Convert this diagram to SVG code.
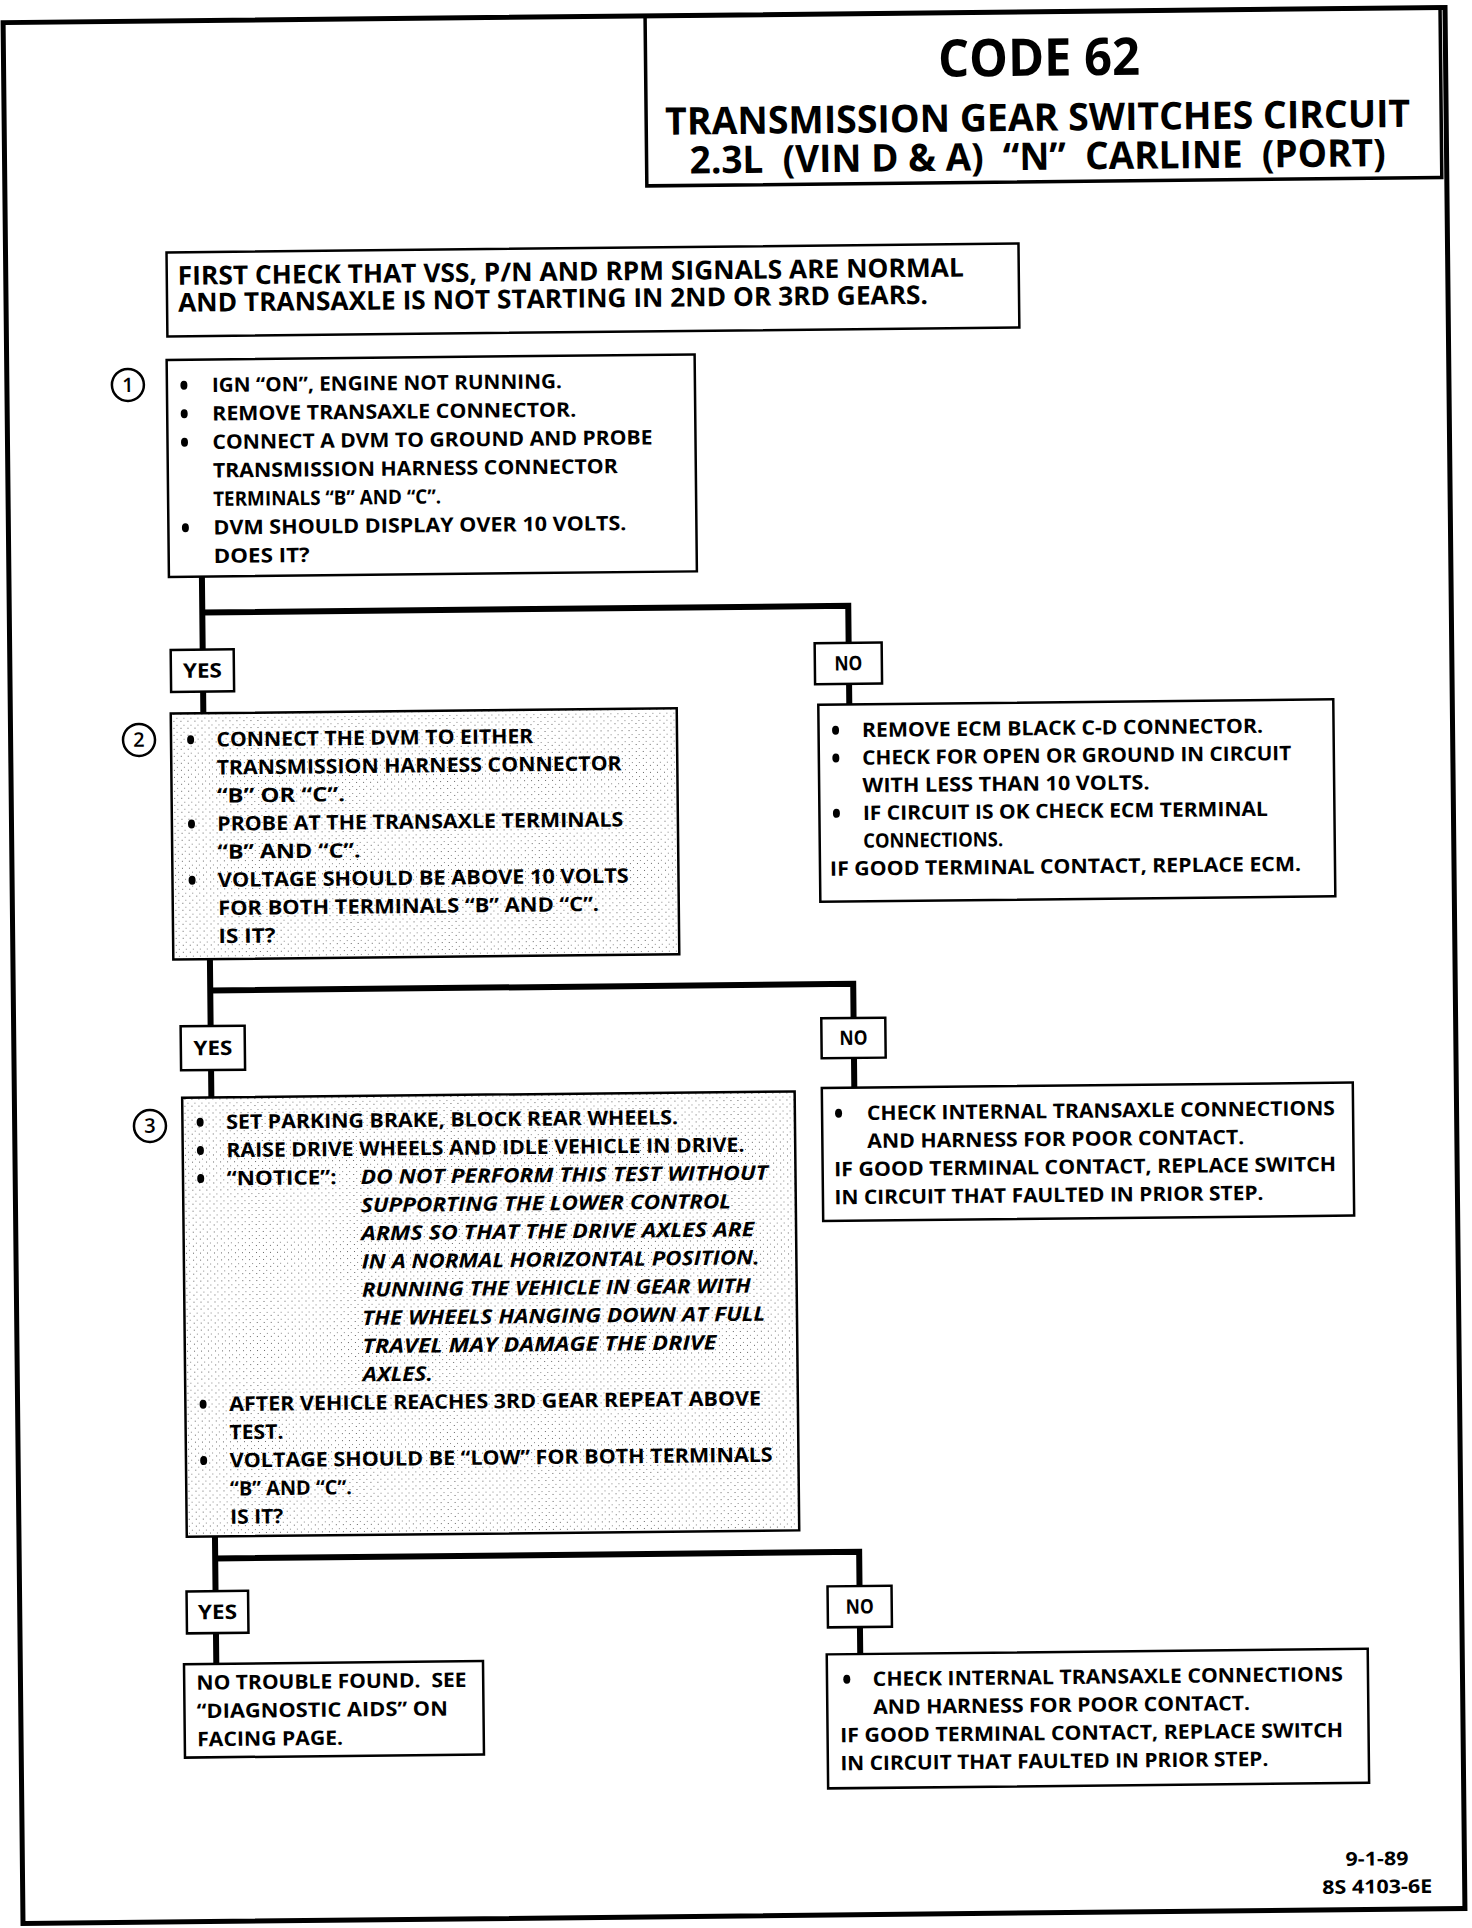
<svg xmlns="http://www.w3.org/2000/svg" width="1472" height="1928" viewBox="0 0 1472 1928">
<style>
.t{font-family:"Open Sans","Liberation Sans",sans-serif;font-weight:700;font-size:20px;fill:#000}
.i{font-style:italic}
.h1{font-size:52px}
.h2{font-size:38px}
.h3{font-size:26px}
.ft{font-size:19px}
.n{font-family:"Open Sans","Liberation Sans",sans-serif;font-weight:600;font-size:20px;fill:#000;text-anchor:middle}
.box{fill:#fff;stroke:#000;stroke-width:2.5}
.sh{fill:url(#stip);stroke:#000;stroke-width:2.5}
.lbl{fill:#fff;stroke:#000;stroke-width:2.5}
.conn{fill:none;stroke:#000;stroke-width:6;stroke-linejoin:miter}
.circ{fill:#fff;stroke:#000;stroke-width:2.5}
.pre{white-space:pre}
</style>
<defs>
<pattern id="stip" width="7" height="7" patternUnits="userSpaceOnUse">
<rect width="7" height="7" fill="#fff"/>
<rect x="1" y="1" width="1" height="1" fill="#666"/>
<rect x="4" y="5" width="1" height="1" fill="#888"/>
</pattern>
</defs>
<rect width="1472" height="1928" fill="#fff"/>
<g transform="rotate(-0.6 736 964)">
<rect id="frame" x="13" y="15" width="1442" height="1901" fill="none" stroke="#000" stroke-width="5"/>

<g id="title">
<rect x="655" y="15" width="795" height="170" fill="none" stroke="#000" stroke-width="3.5"/>
<text class="t h1" x="947.5" y="79" textLength="202" lengthAdjust="spacingAndGlyphs">CODE 62</text>
<text class="t h2" x="674" y="134" textLength="745" lengthAdjust="spacingAndGlyphs">TRANSMISSION GEAR SWITCHES CIRCUIT</text>
<text class="t h2 pre" x="698" y="173" textLength="696" lengthAdjust="spacingAndGlyphs">2.3L  (VIN D &amp; A)  “N”  CARLINE  (PORT)</text>
</g>

<g id="connectors">
<path class="conn" d="M206 571 V644 M206 686 V708 M206 607 H852 V644 M852 685 V706"/>
<path class="conn" d="M210 954 V1021 M210 1064 V1092 M210 985 H853 V1019 M853 1059 V1089"/>
<path class="conn" d="M209 1531 V1586 M209 1628 V1658 M209 1553 H853 V1587 M853 1628 V1655"/>
</g>

<g id="first-check">
<rect class="box" x="174" y="246.5" width="852" height="84"/>
<text class="t h3" x="185" y="279" textLength="786" lengthAdjust="spacingAndGlyphs">FIRST CHECK THAT VSS, P/N AND RPM SIGNALS ARE NORMAL</text>
<text class="t h3" x="185" y="306" textLength="750" lengthAdjust="spacingAndGlyphs">AND TRANSAXLE IS NOT STARTING IN 2ND OR 3RD GEARS.</text>
</g>

<g id="step1">
<circle class="circ" cx="134" cy="378.6" r="16"/>
<text class="n" x="134" y="385.5">1</text>
<rect class="box" x="173" y="354" width="528" height="217"/>
<ellipse cx="190" cy="379.5" rx="3.5" ry="4.5"/><ellipse cx="190" cy="408" rx="3.5" ry="4.5"/><ellipse cx="190" cy="436.5" rx="3.5" ry="4.5"/><ellipse cx="190" cy="522" rx="3.5" ry="4.5"/>
<text class="t" x="218" y="386.5" textLength="350" lengthAdjust="spacingAndGlyphs">IGN “ON”, ENGINE NOT RUNNING.</text>
<text class="t" x="218" y="415" textLength="364" lengthAdjust="spacingAndGlyphs">REMOVE TRANSAXLE CONNECTOR.</text>
<text class="t" x="218" y="443.5" textLength="440" lengthAdjust="spacingAndGlyphs">CONNECT A DVM TO GROUND AND PROBE</text>
<text class="t" x="218" y="472" textLength="405" lengthAdjust="spacingAndGlyphs">TRANSMISSION HARNESS CONNECTOR</text>
<text class="t" x="218" y="500.5" textLength="228" lengthAdjust="spacingAndGlyphs">TERMINALS “B” AND “C”.</text>
<text class="t" x="218" y="529" textLength="413" lengthAdjust="spacingAndGlyphs">DVM SHOULD DISPLAY OVER 10 VOLTS.</text>
<text class="t" x="218" y="557.5" textLength="96" lengthAdjust="spacingAndGlyphs">DOES IT?</text>
</g>

<g id="yes1">
<rect class="lbl" x="174" y="644" width="63" height="42"/>
<text class="t" x="205.5" y="672" text-anchor="middle" textLength="39" lengthAdjust="spacingAndGlyphs">YES</text>
</g>
<g id="no1">
<rect class="lbl" x="818" y="644" width="67" height="41"/>
<text class="t" x="851.5" y="671.5" text-anchor="middle" textLength="28" lengthAdjust="spacingAndGlyphs">NO</text>
</g>

<g id="step2">
<circle class="circ" cx="141.4" cy="733.7" r="16"/>
<text class="n" x="141.4" y="740.5">2</text>
<rect class="sh" x="173.4" y="707.7" width="506" height="246"/>
<ellipse cx="193" cy="734" rx="3.5" ry="4.5"/><ellipse cx="193" cy="818.3" rx="3.5" ry="4.5"/><ellipse cx="193" cy="874.5" rx="3.5" ry="4.5"/>
<text class="t" x="218.7" y="741" textLength="317" lengthAdjust="spacingAndGlyphs">CONNECT THE DVM TO EITHER</text>
<text class="t" x="218.7" y="769.1" textLength="405" lengthAdjust="spacingAndGlyphs">TRANSMISSION HARNESS CONNECTOR</text>
<text class="t" x="218.7" y="797.2" textLength="128" lengthAdjust="spacingAndGlyphs">“B” OR “C”.</text>
<text class="t" x="218.7" y="825.3" textLength="406" lengthAdjust="spacingAndGlyphs">PROBE AT THE TRANSAXLE TERMINALS</text>
<text class="t" x="218.7" y="853.4" textLength="143" lengthAdjust="spacingAndGlyphs">“B” AND “C”.</text>
<text class="t" x="218.7" y="881.5" textLength="411" lengthAdjust="spacingAndGlyphs">VOLTAGE SHOULD BE ABOVE 10 VOLTS</text>
<text class="t" x="218.7" y="909.6" textLength="381" lengthAdjust="spacingAndGlyphs">FOR BOTH TERMINALS “B” AND “C”.</text>
<text class="t" x="218.7" y="937.7" textLength="57" lengthAdjust="spacingAndGlyphs">IS IT?</text>
</g>

<g id="ecm-box">
<rect class="box" x="821" y="705.6" width="515" height="197"/>
<ellipse cx="838" cy="731.3" rx="3.5" ry="4.5"/><ellipse cx="838" cy="759" rx="3.5" ry="4.5"/><ellipse cx="838" cy="814.4" rx="3.5" ry="4.5"/>
<text class="t" x="864.4" y="738.3" textLength="401" lengthAdjust="spacingAndGlyphs">REMOVE ECM BLACK C-D CONNECTOR.</text>
<text class="t" x="864.4" y="766" textLength="429" lengthAdjust="spacingAndGlyphs">CHECK FOR OPEN OR GROUND IN CIRCUIT</text>
<text class="t" x="864.4" y="793.7" textLength="287" lengthAdjust="spacingAndGlyphs">WITH LESS THAN 10 VOLTS.</text>
<text class="t" x="864.4" y="821.4" textLength="405" lengthAdjust="spacingAndGlyphs">IF CIRCUIT IS OK CHECK ECM TERMINAL</text>
<text class="t" x="864.4" y="849.1" textLength="140" lengthAdjust="spacingAndGlyphs">CONNECTIONS.</text>
<text class="t" x="831" y="876.8" textLength="471" lengthAdjust="spacingAndGlyphs">IF GOOD TERMINAL CONTACT, REPLACE ECM.</text>
</g>

<g id="yes2">
<rect class="lbl" x="180" y="1020.5" width="64" height="44"/>
<text class="t" x="212" y="1049.5" text-anchor="middle" textLength="39" lengthAdjust="spacingAndGlyphs">YES</text>
</g>
<g id="no2">
<rect class="lbl" x="820.7" y="1019.2" width="64" height="40"/>
<text class="t" x="852.7" y="1046" text-anchor="middle" textLength="28" lengthAdjust="spacingAndGlyphs">NO</text>
</g>

<g id="check-box-1">
<rect class="box" x="820.5" y="1089" width="531" height="133"/>
<ellipse cx="837" cy="1114.4" rx="3.5" ry="4.5"/>
<text class="t" x="865.4" y="1121.4" textLength="468" lengthAdjust="spacingAndGlyphs">CHECK INTERNAL TRANSAXLE CONNECTIONS</text>
<text class="t" x="865.4" y="1149.4" textLength="377" lengthAdjust="spacingAndGlyphs">AND HARNESS FOR POOR CONTACT.</text>
<text class="t" x="832" y="1177.4" textLength="502" lengthAdjust="spacingAndGlyphs">IF GOOD TERMINAL CONTACT, REPLACE SWITCH</text>
<text class="t" x="832" y="1205.4" textLength="429" lengthAdjust="spacingAndGlyphs">IN CIRCUIT THAT FAULTED IN PRIOR STEP.</text>
</g>

<g id="step3">
<circle class="circ" cx="148.3" cy="1119.8" r="16"/>
<text class="n" x="148.3" y="1126.5">3</text>
<rect class="sh" x="180.8" y="1092" width="612.5" height="439"/>
<ellipse cx="198.5" cy="1116.6" rx="3.5" ry="4.5"/><ellipse cx="198.5" cy="1144.8" rx="3.5" ry="4.5"/><ellipse cx="198.5" cy="1173" rx="3.5" ry="4.5"/><ellipse cx="198.5" cy="1398.6" rx="3.5" ry="4.5"/><ellipse cx="198.5" cy="1455" rx="3.5" ry="4.5"/>
<text class="t" x="224.5" y="1123.6" textLength="452" lengthAdjust="spacingAndGlyphs">SET PARKING BRAKE, BLOCK REAR WHEELS.</text>
<text class="t" x="224.5" y="1151.8" textLength="518" lengthAdjust="spacingAndGlyphs">RAISE DRIVE WHEELS AND IDLE VEHICLE IN DRIVE.</text>
<text class="t" x="224.5" y="1180" textLength="110" lengthAdjust="spacingAndGlyphs">“NOTICE”:</text>
<text class="t i" x="358.5" y="1180" textLength="407" lengthAdjust="spacingAndGlyphs">DO NOT PERFORM THIS TEST WITHOUT</text>
<text class="t i" x="358.5" y="1208.2" textLength="370" lengthAdjust="spacingAndGlyphs">SUPPORTING THE LOWER CONTROL</text>
<text class="t i" x="358.5" y="1236.4" textLength="393" lengthAdjust="spacingAndGlyphs">ARMS SO THAT THE DRIVE AXLES ARE</text>
<text class="t i" x="358.5" y="1264.6" textLength="398" lengthAdjust="spacingAndGlyphs">IN A NORMAL HORIZONTAL POSITION.</text>
<text class="t i" x="358.5" y="1292.8" textLength="389" lengthAdjust="spacingAndGlyphs">RUNNING THE VEHICLE IN GEAR WITH</text>
<text class="t i" x="358.5" y="1321" textLength="403" lengthAdjust="spacingAndGlyphs">THE WHEELS HANGING DOWN AT FULL</text>
<text class="t i" x="358.5" y="1349.2" textLength="354" lengthAdjust="spacingAndGlyphs">TRAVEL MAY DAMAGE THE DRIVE</text>
<text class="t i" x="358.5" y="1377.4" textLength="70" lengthAdjust="spacingAndGlyphs">AXLES.</text>
<text class="t" x="224.5" y="1405.6" textLength="532" lengthAdjust="spacingAndGlyphs">AFTER VEHICLE REACHES 3RD GEAR REPEAT ABOVE</text>
<text class="t" x="224.5" y="1433.8" textLength="54" lengthAdjust="spacingAndGlyphs">TEST.</text>
<text class="t" x="224.5" y="1462" textLength="543" lengthAdjust="spacingAndGlyphs">VOLTAGE SHOULD BE “LOW” FOR BOTH TERMINALS</text>
<text class="t" x="224.5" y="1490.2" textLength="122" lengthAdjust="spacingAndGlyphs">“B” AND “C”.</text>
<text class="t" x="224.5" y="1518.4" textLength="53" lengthAdjust="spacingAndGlyphs">IS IT?</text>
</g>

<g id="yes3">
<rect class="lbl" x="180" y="1585.6" width="61.5" height="42"/>
<text class="t" x="210.7" y="1613.6" text-anchor="middle" textLength="39" lengthAdjust="spacingAndGlyphs">YES</text>
</g>
<g id="no3">
<rect class="lbl" x="821" y="1587.3" width="64" height="41"/>
<text class="t" x="853" y="1614.8" text-anchor="middle" textLength="28" lengthAdjust="spacingAndGlyphs">NO</text>
</g>

<g id="no-trouble">
<rect class="box" x="176.7" y="1658.4" width="299" height="93.4"/>
<text class="t pre" x="189" y="1684" textLength="270" lengthAdjust="spacingAndGlyphs">NO TROUBLE FOUND.  SEE</text>
<text class="t" x="189" y="1712.4" textLength="251" lengthAdjust="spacingAndGlyphs">“DIAGNOSTIC AIDS” ON</text>
<text class="t" x="189" y="1740.6" textLength="146" lengthAdjust="spacingAndGlyphs">FACING PAGE.</text>
</g>

<g id="check-box-2">
<rect class="box" x="819.5" y="1655.3" width="541" height="134"/>
<ellipse cx="839.3" cy="1680.4" rx="3.5" ry="4.5"/>
<text class="t" x="865.3" y="1687.4" textLength="470" lengthAdjust="spacingAndGlyphs">CHECK INTERNAL TRANSAXLE CONNECTIONS</text>
<text class="t" x="865.3" y="1715.4" textLength="377" lengthAdjust="spacingAndGlyphs">AND HARNESS FOR POOR CONTACT.</text>
<text class="t" x="832" y="1743.4" textLength="503" lengthAdjust="spacingAndGlyphs">IF GOOD TERMINAL CONTACT, REPLACE SWITCH</text>
<text class="t" x="832" y="1771.4" textLength="428" lengthAdjust="spacingAndGlyphs">IN CIRCUIT THAT FAULTED IN PRIOR STEP.</text>
</g>

<g id="footer">
<text class="t ft" x="1367.5" y="1872" text-anchor="middle" textLength="63" lengthAdjust="spacingAndGlyphs">9-1-89</text>
<text class="t ft" x="1367.5" y="1900" text-anchor="middle" textLength="110" lengthAdjust="spacingAndGlyphs">8S 4103-6E</text>
</g>
</g>
</svg>
